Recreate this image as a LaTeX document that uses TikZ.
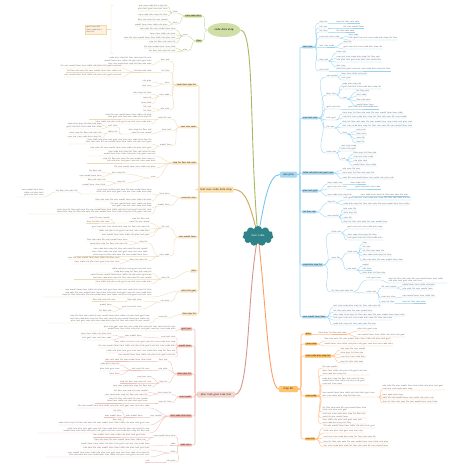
\documentclass[tikz,border=0pt]{standalone}
\usepackage{tikz}
\usetikzlibrary{
  positioning,
  shapes.geometric,
  shapes.symbols,
  backgrounds
}
\usepackage{xcolor}
\definecolor{hub}{RGB}{46,130,136}
\definecolor{grnmain}{RGB}{207,223,166}
\definecolor{grnbox}{RGB}{183,205,122}
\definecolor{grnline}{RGB}{196,213,146}
\definecolor{grnedge}{RGB}{166,186,100}
\definecolor{tanmain}{RGB}{253,224,176}
\definecolor{tanbox}{RGB}{251,227,190}
\definecolor{tanline}{RGB}{240,218,180}
\definecolor{tanedge}{RGB}{210,166,84}
\definecolor{blumain}{RGB}{167,216,242}
\definecolor{blubox}{RGB}{166,213,238}
\definecolor{bluline}{RGB}{150,212,245}
\definecolor{bluedge}{RGB}{120,200,240}
\definecolor{pnkmain}{RGB}{245,212,205}
\definecolor{pnkbox}{RGB}{242,180,167}
\definecolor{pnkline}{RGB}{240,192,182}
\definecolor{pnkedge}{RGB}{214,152,138}
\definecolor{orgmain}{RGB}{255,196,108}
\definecolor{orgbox}{RGB}{248,182,80}
\definecolor{orgline}{RGB}{255,186,132}
\definecolor{orgedge}{RGB}{255,158,102}
\definecolor{leaftext}{RGB}{125,125,125}
\definecolor{notefill}{RGB}{253,241,222}
\definecolor{notedraw}{RGB}{245,216,168}

\newcommand\mapfont{\sffamily\fontsize{2.3}{2.7}\selectfont}
\newcommand\topicfont{\sffamily\fontsize{2.9}{3.3}\selectfont}
\newcommand\fillword[1]{\ifcase#1 plan\or data\or user\or task\or step\or model\or goal\or list\or form\or case\or flow\or item\or test\or role\or table\or view\or note\or rule\or code\or file\fi}
\newcommand\filltext[2]{\foreach \k in {1,...,#2}{\pgfmathtruncatemacro\fm{mod(#1*7+\k*3,20)}\fillword{\fm}\ifnum\k<#2\relax\space\fi}}
% leaves on the left: parent point, name prefix, end x, line style, y/words/width
\newcommand\leavesL[5]{%
  \foreach \y/\n/\w [count=\i] in {#5}{%
    \ifnum\w=0\relax
      \node[leafL] (#2-\i) at (#3,\y) {\filltext{\y}{\n}};%
    \else
      \node[leafL, text width=\w pt, align=right] (#2-\i) at (#3,\y) {\filltext{\y}{\n}};%
    \fi
    \draw[#4] (#1) to[out=180,in=0] (#2-\i.south east) -- (#2-\i.south west);%
  }}
% leaves on the right: parent point, name prefix, start x, line style, y/words/width
\newcommand\leavesR[5]{%
  \foreach \y/\n/\w [count=\i] in {#5}{%
    \ifnum\w=0\relax
      \node[leafR] (#2-\i) at (#3,\y) {\filltext{\y}{\n}};%
    \else
      \node[leafR, text width=\w pt, align=left] (#2-\i) at (#3,\y) {\filltext{\y}{\n}};%
    \fi
    \draw[#4] (#1) to[out=0,in=180] (#2-\i.south west) -- (#2-\i.south east);%
  }}

\begin{document}
\begin{tikzpicture}[
  x=1pt, y=-1pt,
  leafL/.style={font=\mapfont, text=leaftext, inner xsep=0.3pt, inner ysep=0.35pt, anchor=south east},
  leafR/.style={font=\mapfont, text=leaftext, inner xsep=0.3pt, inner ysep=0.35pt, anchor=south west},
  box/.style={font=\mapfont, text=black!80, inner xsep=1pt, inner ysep=0.6pt, rounded corners=0.6pt},
  topic/.style={font=\topicfont, text=black!80, inner xsep=2pt, inner ysep=1pt,
                rounded corners=1pt, minimum height=6pt},
  note/.style={font=\mapfont, text=leaftext, draw=notedraw, fill=notefill, line width=0.3pt,
               text width=19pt, align=left, inner sep=1pt},
  grnlink/.style={draw=grnline, line width=0.35pt},
  tanlink/.style={draw=tanline, line width=0.35pt},
  blulink/.style={draw=bluline, line width=0.35pt},
  pnklink/.style={draw=pnkline, line width=0.35pt},
  orglink/.style={draw=orgline, line width=0.35pt},
  trunk/.style={line width=0.55pt, rounded corners=2pt}
]
\useasboundingbox (0,0) rectangle (450,469);
\begin{scope}[on background layer]
  \fill[white] (0,0) rectangle (450,469);
\end{scope}

\node[cloud, cloud puffs=11, aspect=1.6, fill=hub, inner sep=0pt, minimum width=31pt,
  minimum height=20pt, font=\topicfont, text=white] (C) at (258,236) {\filltext{4}{2}};

% green
\node[ellipse, fill=grnmain, font=\topicfont, minimum width=33pt, minimum height=14pt,
  inner sep=0pt] (G) at (224,30) {\filltext{5}{3}};
\node[box, fill=grnbox, anchor=east] (G1) at (202,16) {\filltext{16}{3}};
\node[box, fill=grnbox, anchor=east] (G2) at (202,41) {\filltext{41}{1}};
\draw[grnlink] (G.west) to[out=180,in=0] (G1.east);
\draw[grnlink] (G.west) to[out=180,in=0] (G2.east);
\leavesL{G1.west}{G1a}{178}{grnlink}{13/1/0, 24/1/0}
\leavesL{G1a-1.south west}{G1b}{168}{grnlink}{7/6/0, 11/6/0, 16/6/0}
\leavesL{G1a-2.south west}{G1c}{168}{grnlink}{21/6/0, 26/6/0}
\leavesL{G2.west}{G2a}{188}{grnlink}{36/1/0, 51/1/0}
\leavesL{G2a-1.south west}{G2b}{176}{grnlink}{30/7/0, 35/5/0, 39/10/0, 43/6/0}
\leavesL{G2a-2.south west}{G2c}{176}{grnlink}{48/6/0, 52/6/0}
\node[note] (gnote) at (96,29.5) {\filltext{29}{8}};
\coordinate (sumtop) at (113,5);
\coordinate (summid) at (111,29.5);
\coordinate (sumbot) at (113,54);
\draw[draw=notedraw, line width=0.4pt] (sumtop) -- ++(-2,1) -- ++(0,47) -- (sumbot);
\draw[draw=notedraw, line width=0.4pt] (gnote.east) -- (summid);

% tan
\node[topic, fill=tanmain, minimum width=32pt] (T) at (216,189.5) {\filltext{7}{5}};
\coordinate (Ttrunk) at (199,189.5);
\node[box, fill=tanbox, anchor=east] (T1) at (197,85) {\filltext{85}{4}};
\node[box, fill=tanbox, anchor=east] (T2) at (197,127) {\filltext{27}{3}};
\node[box, fill=tanbox, anchor=east] (T3) at (197,163) {\filltext{63}{5}};
\node[box, fill=tanbox, anchor=east] (T4) at (197,198) {\filltext{98}{3}};
\node[box, fill=tanbox, anchor=east] (T5) at (197,237) {\filltext{37}{3}};
\node[box, fill=tanbox, anchor=east] (T6) at (197,271) {\filltext{71}{1}};
\node[box, fill=tanbox, anchor=east] (T7) at (197,291) {\filltext{91}{3}};
\node[box, fill=tanbox, anchor=east] (T8) at (197,314) {\filltext{14}{3}};
\foreach \k in {T1,T2,T3,T4,T5,T6,T7,T8}
  \draw[tanlink, trunk] (T.west) -- (Ttrunk) |- (\k.east);
\leavesL{T1.west}{T1a}{170}{tanlink}{61/2/0, 72/2/0, 84/1/0, 96/2/0, 110/2/0}
\leavesL{T1a-1.south west}{T1b}{152}{tanlink}{65/27/62}
\leavesL{T1a-2.south west}{T1c}{152}{tanlink}{72/4/0}
\leavesL{T1c-1.south west}{T1d}{122}{tanlink}{68/12/0, 72/11/0, 77/11/0}
\leavesL{T1a-3.south west}{T1e}{152}{tanlink}{82/2/0, 87/2/0}
\leavesL{T1a-4.south west}{T1f}{152}{tanlink}{94/4/0, 99/2/0, 104/2/0}
\leavesL{T1a-5.south west}{T1g}{152}{tanlink}{108/2/0, 112/2/0}
\leavesL{T2.west}{T2a}{172}{tanlink}{119/3/0, 131/2/0, 146/2/0}
\leavesL{T2a-1.south west}{T2b}{152}{tanlink}{119/18/62, 124/11/0}
\leavesL{T2a-2.south west}{T2c}{152}{tanlink}{134/9/30}
\leavesL{T2c-1.south west}{T2d}{118}{tanlink}{127/2/0, 133/2/0}
\leavesL{T2d-1.south west}{T2e}{102}{tanlink}{125/7/0, 129/7/0}
\leavesL{T2d-2.south west}{T2f}{102}{tanlink}{134/7/0, 138/7/0}
\leavesL{T2a-3.south west}{T2g}{152}{tanlink}{144/26/82, 150/12/0}
\leavesL{T3.west}{T3a}{156}{tanlink}{156/20/68, 163/20/68, 168/8/0, 178/1/0}
\leavesL{T3a-4.south west}{T3b}{126}{tanlink}{174/3/0, 183/2/0}
\leavesL{T3b-1.south west}{T3c}{102}{tanlink}{172/3/0, 177/4/0}
\leavesL{T3b-2.south west}{T3d}{106}{tanlink}{181/4/0, 186/4/0}
\leavesL{T4.west}{T4a}{170}{tanlink}{195/2/0, 206/2/0}
\leavesL{T4a-1.south west}{T4b}{152}{tanlink}{194/22/70, 201/11/0}
\leavesL{T4b-1.south west}{T4c}{78}{tanlink}{192/5/0}
\leavesL{T4c-1.south west}{T4d}{44}{tanlink}{197/12/26}
\leavesL{T4a-2.south west}{T4e}{152}{tanlink}{208/16/56, 214/38/124}
\leavesL{T5.west}{T5a}{170}{tanlink}{228/2/0, 256/2/0}
\leavesL{T5a-1.south west}{T5b}{150}{tanlink}{223/8/34, 229/12/0, 233/10/0, 237/9/0}
\leavesL{T5b-1.south west}{T5c}{110}{tanlink}{219/4/0, 223/5/0}
\leavesL{T5a-2.south west}{T5d}{148}{tanlink}{243/2/0, 256/33/72, 261/4/0}
\leavesL{T5d-1.south west}{T5e}{128}{tanlink}{241/8/0, 245/8/0}
\leavesL{T5d-3.south west}{T5f}{120}{tanlink}{259/10/0, 264/9/0}
\leavesL{T6.west}{T6a}{170}{tanlink}{279/2/0}
\leavesL{T6a-1.south west}{T6b}{152}{tanlink}{273/16/55, 279/24/77, 284/11/0}
\leavesL{T7.west}{T7a}{152}{tanlink}{297/52/108}
\leavesL{T7.west}{T7b}{170}{tanlink}{302/2/0}
\leavesL{T7b-1.south west}{T7c}{142}{tanlink}{301/3/0, 309/4/0}
\leavesL{T7c-1.south west}{T7d}{116}{tanlink}{301/5/0}
\leavesL{T7c-2.south west}{T7e}{112}{tanlink}{306/2/0, 312/3/0}
\leavesL{T8.west}{T8a}{168}{tanlink}{318/2/0}
\leavesL{T8a-1.south west}{T8b}{150}{tanlink}{323/48/100}

% pink
\node[topic, fill=pnkmain, minimum width=38pt] (P) at (216,394.5) {\filltext{11}{5}};
\coordinate (Ptrunk) at (195,394.5);
\node[box, fill=pnkbox, anchor=east] (P1) at (192,329) {\filltext{29}{2}};
\node[box, fill=pnkbox, anchor=east] (P2) at (192,346) {\filltext{46}{2}};
\node[box, fill=pnkbox, anchor=east] (P3) at (192,374) {\filltext{74}{3}};
\node[box, fill=pnkbox, anchor=east] (P4) at (192,397) {\filltext{97}{2}};
\node[box, fill=pnkbox, anchor=east] (P5) at (192,416) {\filltext{16}{4}};
\node[box, fill=pnkbox, anchor=east] (P6) at (192,445) {\filltext{45}{2}};
\foreach \k in {P1,P2,P3,P4,P5,P6}
  \draw[pnklink, trunk] (P.west) -- (Ptrunk) |- (\k.east);
\leavesL{P1.west}{P1a}{176}{pnklink}{331/28/90}
\leavesL{P2.west}{P2a}{176}{pnklink}{338/3/0}
\leavesL{P2a-1.south west}{P2c}{142}{pnklink}{337/3/0}
\leavesL{P2c-1.south west}{P2d}{112}{pnklink}{335/6/0, 340/6/0}
\leavesL{P2.west}{P2b}{176}{pnklink}{344/12/0, 348/15/0, 353/14/0, 357/11/0}
\leavesL{P3.west}{P3a}{168}{pnklink}{361/2/0, 370/2/0, 383/2/0}
\leavesL{P3a-1.south west}{P3b}{152}{pnklink}{361/9/0}
\leavesL{P3a-2.south west}{P3c}{150}{pnklink}{370/4/0}
\leavesL{P3c-1.south west}{P3d}{120}{pnklink}{365/4/0, 371/4/0, 375/2/0}
\leavesL{P3a-3.south west}{P3e}{152}{pnklink}{378/3/0, 383/7/0, 387/8/0}
\leavesL{P4.west}{P4a}{172}{pnklink}{394/3/0, 403/3/0}
\leavesL{P4a-1.south west}{P4b}{148}{pnklink}{392/7/0, 396/9/0}
\leavesL{P4a-2.south west}{P4c}{148}{pnklink}{403/16/52}
\leavesL{P5.west}{P5a}{150}{pnklink}{408/14/0, 425/18/0, 433/34/112}
\leavesL{P5.west}{P5b}{162}{pnklink}{417/2/0}
\leavesL{P5b-1.south west}{P5c}{143}{pnklink}{417/3/0}
\leavesL{P5c-1.south west}{P5d}{122}{pnklink}{412/2/0, 417/3/0, 421/2/0}
\leavesL{P6.west}{P6a}{176}{pnklink}{437/4/0, 445/1/0, 453/1/0, 462/2/0}
\leavesL{P6a-1.south west}{P6b}{146}{pnklink}{437/10/0, 441/10/0}
\leavesL{P6a-2.south west}{P6c}{150}{pnklink}{446/13/0}
\leavesL{P6a-3.south west}{P6d}{150}{pnklink}{450/13/0, 457/32/103}
\leavesL{P6a-4.south west}{P6e}{150}{pnklink}{462/1/0}

% blue
\node[topic, fill=blumain, minimum width=17pt] (B) at (288.5,174.5) {\filltext{2}{2}};
\coordinate (Btrunk) at (300,174.5);
\node[box, fill=blubox, anchor=west] (B1) at (302,47) {\filltext{47}{2}};
\node[box, fill=blubox, anchor=west] (B2) at (302,118) {\filltext{18}{3}};
\node[box, fill=blubox, anchor=west] (B3) at (302,173) {\filltext{73}{6}};
\node[box, fill=blubox, anchor=west] (B4) at (302,191) {\filltext{91}{3}};
\node[box, fill=blubox, anchor=west] (B5) at (302,212) {\filltext{12}{3}};
\node[box, fill=blubox, anchor=west] (B6) at (302,265) {\filltext{65}{4}};
\node[box, fill=blubox, anchor=west] (B7) at (302,317) {\filltext{17}{4}};
\foreach \k in {B1,B2,B3,B4,B5,B6,B7}
  \draw[blulink, trunk] (B.east) -- (Btrunk) |- (\k.west);
\leavesR{B1.east}{B1a}{319}{blulink}{23/2/0, 28/2/0, 32/2/0, 38/4/0, 47/3/0, 61/2/0, 71/2/0}
\leavesR{B1a-1.south east}{B1b}{336}{blulink}{23/5/0}
\leavesR{B1a-2.south east}{B1c}{343}{blulink}{28/4/0}
\leavesR{B1a-3.south east}{B1d}{336}{blulink}{32/4/0}
\leavesR{B1a-4.south east}{B1e}{348}{blulink}{36/2/0, 40/10/0}
\leavesR{B1a-5.south east}{B1f}{343}{blulink}{43/2/0, 49/8/0}
\leavesR{B1a-6.south east}{B1g}{336}{blulink}{53/2/0, 58/9/0, 62/9/0, 67/2/0}
\leavesR{B1a-7.south east}{B1h}{336}{blulink}{71/11/0}
\leavesR{B2.east}{B2a}{326}{blulink}{77/2/0, 95/2/0, 109/3/0, 120/2/0, 128/2/0, 153/2/0}
\leavesR{B2a-1.south east}{B2b}{341}{blulink}{75/5/0, 80/2/0}
\leavesR{B2a-2.south east}{B2c}{342}{blulink}{85/4/0, 89/8/0, 99/1/0}
\leavesR{B2c-3.south east}{B2j}{356}{blulink}{92/3/0, 96/2/0, 101/3/0, 106/3/0}
\leavesR{B2a-3.south east}{B2d}{348}{blulink}{109/6/0}
\leavesR{B2a-4.south east}{B2e}{342}{blulink}{114/12/0, 118/13/0}
\leavesR{B2a-5.south east}{B2f}{342}{blulink}{123/14/0, 127/14/0, 134/1/0}
\leavesR{B2f-3.south east}{B2g}{356}{blulink}{131/2/0, 135/2/0, 139/2/0, 143/2/0}
\leavesR{B2a-6.south east}{B2h}{341}{blulink}{147/3/0, 151/3/0, 160/1/0}
\leavesR{B2h-3.south east}{B2i}{353}{blulink}{154/5/0, 158/4/0, 162/3/0, 166/4/0}
\leavesR{B3.east}{B3a}{342}{blulink}{170/4/0, 174/7/0, 179/10/0}
\leavesR{B4.east}{B4a}{327}{blulink}{184/3/0, 189/4/0, 196/5/0}
\leavesR{B4a-1.south east}{B4b}{350}{blulink}{184/3/0}
\leavesR{B4a-2.south east}{B4c}{355}{blulink}{189/5/0}
\leavesR{B4a-3.south east}{B4d}{360}{blulink}{196/10/0}
\leavesR{B5.east}{B5a}{327}{blulink}{203/2/0, 217/2/0}
\leavesR{B5a-1.south east}{B5b}{343}{blulink}{200/14/0, 205/13/0}
\leavesR{B5a-2.south east}{B5c}{343}{blulink}{210/3/0, 214/3/0, 219/2/0, 223/9/0}
\leavesR{B6.east}{B6a}{331}{blulink}{233/2/0, 259/2/0, 292/5/0}
\leavesR{B6a-1.south east}{B6b}{347}{blulink}{229/7/0, 236/6/0, 240/7/0}
\leavesR{B6a-2.south east}{B6c}{347}{blulink}{253/2/0, 270/2/0}
\leavesR{B6c-1.south east}{B6d}{362}{blulink}{244/1/0, 248/2/0, 252/5/0, 256/6/0, 261/8/0}
\leavesR{B6c-2.south east}{B6e}{362}{blulink}{266/1/0, 270/2/0, 274/5/0}
\leavesR{B6a-3.south east}{B6f}{366}{blulink}{280/3/0, 293/2/0}
\leavesR{B6f-1.south east}{B6g}{388}{blulink}{283/18/58}
\leavesR{B6f-2.south east}{B6h}{381}{blulink}{288/3/0, 298/3/0, 303/3/0}
\leavesR{B6h-1.south east}{B6i}{402}{blulink}{286/6/0, 290/6/0}
\leavesR{B6h-2.south east}{B6j}{402}{blulink}{297/6/0}
\leavesR{B6h-3.south east}{B6k}{402}{blulink}{303/5/0}
\leavesR{B7.east}{B7a}{333}{blulink}{307/10/0, 312/8/0, 316/14/0, 320/12/0, 325/9/0}

% orange
\node[topic, fill=orgmain, minimum width=19pt] (O) at (288.5,389) {\filltext{3}{2}};
\coordinate (Otrunk) at (301,389);
\node[box, fill=orgbox, anchor=west] (O1) at (305,334) {\filltext{34}{1}};
\node[box, fill=orgbox, anchor=west] (O2) at (305,344) {\filltext{44}{2}};
\node[box, fill=orgbox, anchor=west] (O3) at (305,356) {\filltext{56}{5}};
\node[box, fill=orgbox, anchor=west] (O4) at (305,396) {\filltext{96}{2}};
\node[box, fill=orgbox, anchor=west] (O5) at (305,439) {\filltext{39}{2}};
\foreach \k in {O1,O2,O3,O4,O5}
  \draw[orglink, trunk] (O.east) -- (Otrunk) |- (\k.west);
\leavesR{O1.east}{O1a}{318}{orglink}{334/6/0}
\leavesR{O1a-1.south east}{O1b}{357}{orglink}{331/4/0, 337/9/0}
\leavesR{O2.east}{O2a}{324}{orglink}{341/13/0, 346/13/0}
\leavesR{O3.east}{O3a}{340}{orglink}{350/5/0, 354/5/0, 358/5/0, 363/5/0}
\leavesR{O4.east}{O4a}{322}{orglink}{368/3/0, 375/14/46, 385/21/46, 397/18/56, 412/14/44, 418/14/44, 424/14/44}
\leavesR{O4a-4.south east}{O4b}{382}{orglink}{390/18/62, 396/4/0, 399/10/0, 403/11/0}
\leavesR{O5.east}{O5a}{323}{orglink}{428/10/0, 433/8/0, 438/11/0, 443/13/0, 447/13/0}

% main branches
\begin{scope}[on background layer]
  \draw[grnedge, line width=0.9pt] (G.east) .. controls (255,31) and (249,140) .. (C.center);
  \draw[tanedge, line width=0.9pt] (T.east) .. controls (246,189.5) and (250,205) .. (C.center);
  \draw[bluedge, line width=0.9pt] (B.west) .. controls (268,174.5) and (264,205) .. (C.center);
  \draw[pnkedge, line width=0.9pt] (P.east) .. controls (250,394.5) and (247,290) .. (C.center);
  \draw[orgedge, line width=0.9pt] (O.west) .. controls (268,389) and (266,300) .. (C.center);
\end{scope}

\end{tikzpicture}
\end{document}
